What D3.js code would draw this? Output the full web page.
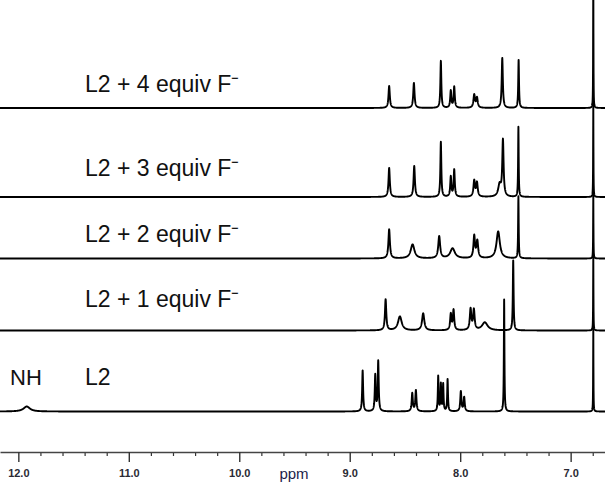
<!DOCTYPE html>
<html>
<head>
<meta charset="utf-8">
<script src="https://cdn.jsdelivr.net/npm/d3@7/dist/d3.min.js"></script>
<style>
  html, body { margin: 0; padding: 0; background: #fff; }
  svg { display: block; }
</style>
</head>
<body>
<svg id="chart" width="605" height="486"></svg>
<script>
// ---------------- DATA ----------------
// chemical shift axis (ppm)
const ppmRange = [12.166, 6.689];
const majorTicks = [12.0, 11.0, 10.0, 9.0, 8.0, 7.0];
const minorTicks = [11.8, 11.6, 11.4, 11.2, 10.8, 10.6, 10.4, 10.2, 9.8, 9.6, 9.4, 9.2,
                    8.8, 8.6, 8.4, 8.2, 7.8, 7.6, 7.4, 7.2, 6.8];
const axisTitle = "ppm";

// spectrum labels (top to bottom)
const spectrumNames = ["L2 + 4 equiv F\u207B", "L2 + 3 equiv F\u207B", "L2 + 2 equiv F\u207B",
                       "L2 + 1 equiv F\u207B", "L2"];
const nhLabel = "NH";

// peaks: [ppm, intensity, half-width (ppm)]
const peaks4eq = [[8.643, 22, 0.007], [8.419, 25, 0.007], [8.175, 47, 0.005],
                  [8.085, 17, 0.006], [8.054, 21, 0.006], [7.873, 13, 0.008], [7.848, 10, 0.008],
                  [7.619, 50, 0.006], [7.471, 48, 0.004], [6.795, 140, 0.0015]];
const peaks3eq = [[8.643, 29, 0.007], [8.416, 31, 0.007], [8.175, 55, 0.005],
                  [8.085, 20, 0.006], [8.054, 27, 0.006], [7.873, 16, 0.008], [7.848, 14, 0.008],
                  [7.643, 12, 0.015], [7.613, 56, 0.007], [7.473, 70, 0.003], [6.795, 95, 0.0015]];
const peaks2eq = [[8.643, 29, 0.008], [8.431, 14, 0.02], [8.190, 22, 0.01],
                  [8.069, 10, 0.025], [7.873, 22, 0.008], [7.845, 17, 0.009],
                  [7.656, 27, 0.018], [7.473, 62, 0.003], [6.795, 66, 0.0015]];
const peaks1eq = [[8.675, 31, 0.007], [8.546, 14, 0.02], [8.335, 17, 0.012],
                  [8.085, 16, 0.007], [8.060, 20, 0.007], [7.906, 21, 0.008], [7.876, 20, 0.008],
                  [7.777, 8, 0.03], [7.520, 70, 0.004], [6.795, 76, 0.0015]];
const peaksL2 = [[11.924, 5, 0.035], [8.883, 41, 0.005], [8.769, 36, 0.005], [8.742, 50, 0.005],
                 [8.434, 18, 0.006], [8.401, 21, 0.006], [8.199, 35, 0.004], [8.175, 27, 0.004],
                 [8.154, 27, 0.004], [8.114, 32, 0.004], [7.994, 20, 0.006], [7.964, 14, 0.006],
                 [7.602, 112, 0.003], [6.795, 84, 0.0015]];
const spectraPeaks = [peaks4eq, peaks3eq, peaks2eq, peaks1eq, peaksL2];

// ---------------- LAYOUT ----------------
const W = 605, H = 486;
const baselines = [108, 197, 258.5, 330.5, 411.5];   // pixel baseline of each trace
const labelY = [91.7, 176, 241.7, 306.7, 385];
const axisY = 452;

const svg = d3.select("#chart");
const x = d3.scaleLinear().domain(ppmRange).range([0, W]);
const yAmp = d3.scaleLinear().domain([0, 100]).range([0, 100]); // intensity -> px

svg.append("defs").append("clipPath").attr("id", "plotclip")
  .append("rect").attr("x", 0).attr("y", 0).attr("width", W).attr("height", axisY - 2);

const step = 0.0012;
const gridPts = d3.range(ppmRange[0], ppmRange[1], -step);

function spectrum(peaks) {
  const pts = gridPts.concat(peaks.map(p => p[0])).sort((a, b) => b - a);
  return pts.map(p => {
    let v = 0;
    for (const [c, h, w] of peaks) {
      const t = (p - c) / w;
      v += h / (1 + t * t);
    }
    return [p, v];
  });
}

const g = svg.append("g").attr("clip-path", "url(#plotclip)");
const line = d3.line().x(d => x(d[0]));

spectraPeaks.forEach((peaks, i) => {
  const data = spectrum(peaks);
  g.append("path")
    .datum(data)
    .attr("fill", "none")
    .attr("stroke", "#000")
    .attr("stroke-width", 1.9)
    .attr("stroke-linejoin", "round")
    .attr("d", line.y(d => baselines[i] - yAmp(d[1])));
});

// labels
const labelFont = "'Liberation Sans', Arial, sans-serif";
spectrumNames.forEach((name, i) => {
  svg.append("text")
    .attr("x", 85).attr("y", labelY[i])
    .attr("font-family", labelFont).attr("font-size", 23)
    .attr("fill", "#111")
    .text(name);
});
svg.append("text")
  .attr("x", 10).attr("y", labelY[4])
  .attr("font-family", labelFont).attr("font-size", 22)
  .attr("fill", "#111")
  .text(nhLabel);

// axis
const axisG = svg.append("g").attr("transform", `translate(0,${axisY})`);
const minorAxis = d3.axisBottom(x).tickValues(minorTicks).tickSize(4).tickSizeOuter(0).tickFormat("");
const majorAxis = d3.axisBottom(x).tickValues(majorTicks).tickSize(10).tickSizeOuter(0)
  .tickFormat(d3.format(".1f"));
axisG.append("g").call(minorAxis).call(a => a.select(".domain").remove())
  .selectAll("line").attr("stroke", "#333").attr("stroke-width", 1.2);
const maj = axisG.append("g").call(majorAxis);
maj.select(".domain").attr("stroke", "#444").attr("stroke-width", 1.6);
maj.selectAll(".tick line").attr("stroke", "#333").attr("stroke-width", 1.4);
maj.selectAll(".tick text")
  .attr("y", 25).attr("dy", 0)
  .attr("font-family", labelFont).attr("font-size", 11).attr("font-weight", "bold")
  .attr("fill", "#2a2a33");

svg.append("text")
  .attr("x", 294).attr("y", 478.5)
  .attr("text-anchor", "middle")
  .attr("font-family", labelFont).attr("font-size", 15)
  .attr("fill", "#1c1c4a")
  .text(axisTitle);
</script>
</body>
</html>
